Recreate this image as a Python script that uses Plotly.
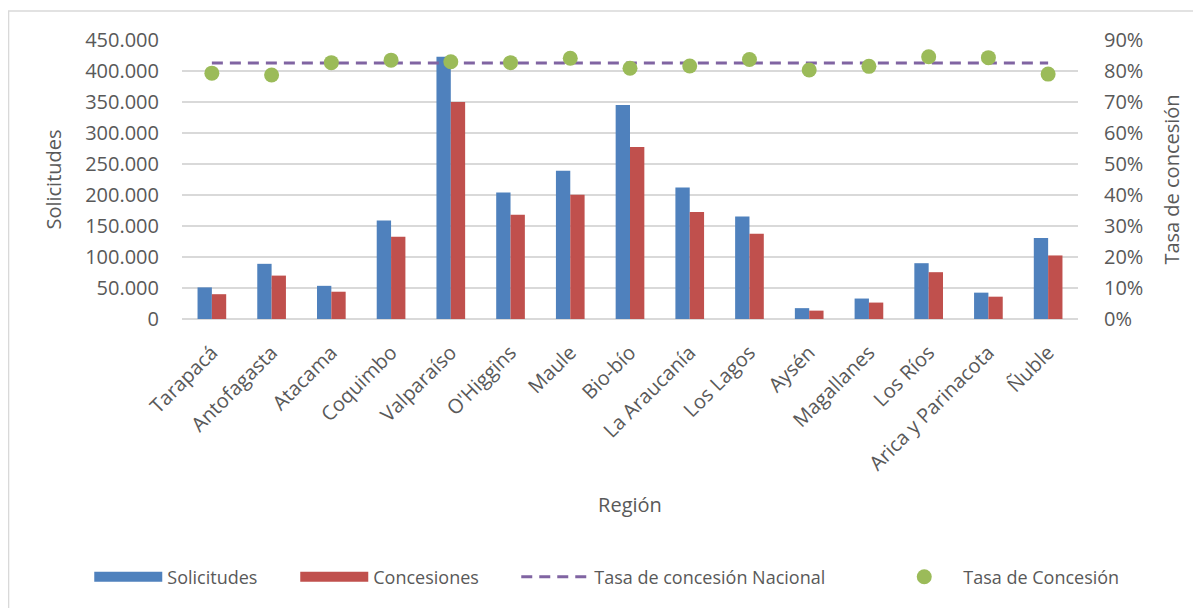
import plotly.graph_objects as go

regiones = ["Tarapacá", "Antofagasta", "Atacama", "Coquimbo", "Valparaíso", "O'Higgins",
            "Maule", "Bio-bío", "La Araucanía", "Los Lagos", "Aysén", "Magallanes",
            "Los Ríos", "Arica y Parinacota", "Ñuble"]
solicitudes = [51000, 89000, 53500, 159000, 423000, 204000, 239000, 345000, 212000,
               165500, 17500, 33000, 90000, 42500, 130500]
concesiones = [40000, 70000, 44000, 132500, 350000, 168000, 200500, 277500, 172500,
               137500, 13500, 26500, 75500, 36000, 102500]
tasa_concesion = [0.793, 0.787, 0.827, 0.835, 0.830, 0.827, 0.841, 0.809, 0.816,
                  0.837, 0.803, 0.815, 0.846, 0.843, 0.790]
tasa_nacional = 0.826

FONT = "Open Sans"
GRAY = "#595959"
BLUE, RED, PURPLE, GREEN = "#4f81bd", "#c0504d", "#8064a2", "#9bbb59"

fig = go.Figure()
fig.add_trace(go.Bar(x=regiones, y=solicitudes, name="Solicitudes", legendgroup="sol",
                     showlegend=False, marker=dict(color=BLUE, line=dict(width=0))))
fig.add_trace(go.Bar(x=regiones, y=concesiones, name="Concesiones", legendgroup="con",
                     showlegend=False, marker=dict(color=RED, line=dict(width=0))))
# legend swatches (wide rectangles, as in the original legend)
fig.add_trace(go.Scatter(x=[None], y=[None], mode="lines", name="Solicitudes",
                         legendgroup="sol", legendwidth=123,
                         line=dict(color=BLUE, width=13)))
fig.add_trace(go.Scatter(x=[None], y=[None], mode="lines", name="Concesiones",
                         legendgroup="con", legendwidth=138,
                         line=dict(color=RED, width=13)))
fig.add_trace(go.Scatter(x=regiones, y=[tasa_nacional] * len(regiones), mode="lines",
                         name="Tasa de concesión Nacional", yaxis="y2", legendwidth=286,
                         line=dict(color=PURPLE, width=3, dash="11px,7px")))
fig.add_trace(go.Scatter(x=regiones, y=tasa_concesion, mode="markers",
                         name="Tasa de Concesión", yaxis="y2",
                         marker=dict(color=GREEN, size=15, line=dict(width=0))))

fig.update_layout(
    template="none",
    width=1193, height=600, autosize=False,
    margin=dict(l=174, r=123, t=32, b=289, pad=0),
    paper_bgcolor="white", plot_bgcolor="white",
    font=dict(family=FONT, color=GRAY, size=18),
    separators=",.",
    barmode="group", bargap=0.52, bargroupgap=0,
    showlegend=True,
    legend=dict(orientation="h", x=-0.1035, xanchor="left", y=-0.925, yanchor="middle",
                font=dict(size=18, color=GRAY), traceorder="normal", itemwidth=68,
                bgcolor="rgba(0,0,0,0)", borderwidth=0),
    xaxis=dict(tickangle=-45, tickfont=dict(size=20), showgrid=False, automargin=False,
               showline=False, ticks="", zeroline=False, range=[-0.5, len(regiones) - 0.5],
               ticklabelstandoff=17, ticklabelshift=0,
               title=dict(text="Región", font=dict(size=20), standoff=22)),
    yaxis=dict(range=[0, 450000], dtick=50000, tickformat=",.0f", automargin=False,
               tickfont=dict(size=20), showgrid=True, gridcolor="#d9d9d9", gridwidth=1.5,
               zeroline=True, zerolinecolor="#d9d9d9", zerolinewidth=1.5,
               showline=False, ticks="", ticklabelstandoff=22,
               title=dict(text="Solicitudes", font=dict(size=20), standoff=18)),
    yaxis2=dict(range=[0, 0.9], dtick=0.1, tickformat=".0%", overlaying="y", side="right",
                tickfont=dict(size=20), showgrid=False, zeroline=False, showline=False,
                automargin=False, ticks="", ticklabelstandoff=25,
                title=dict(text="Tasa de concesión", font=dict(size=20), standoff=22)),
    shapes=[dict(type="rect", xref="paper", yref="paper",
                 x0=-0.1936, x1=1.2, y0=-1.2, y1=1.104,
                 line=dict(color="#d9d9d9", width=1.5), fillcolor="rgba(0,0,0,0)", layer="below")],
)

fig.write_html("out.html")
